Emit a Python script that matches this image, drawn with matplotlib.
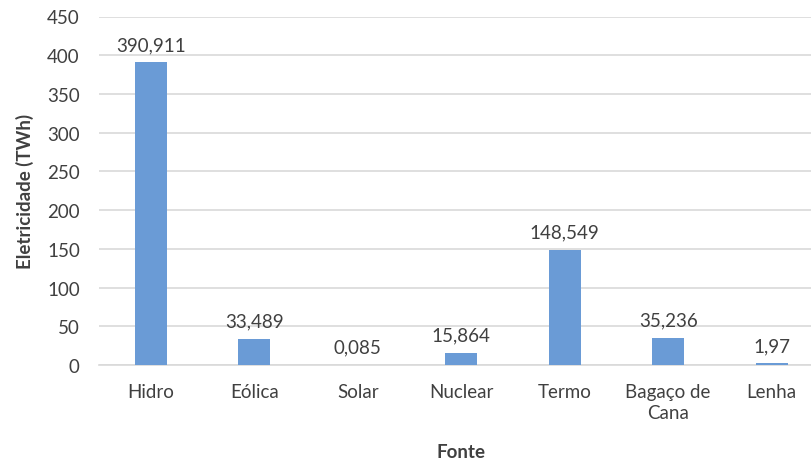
import matplotlib.pyplot as plt

fontes = ["Hidro", "Eólica", "Solar", "Nuclear", "Termo", "Bagaço de\nCana", "Lenha"]
valores = [390.911, 33.489, 0.085, 15.864, 148.549, 35.236, 1.97]
rotulos = ["390,911", "33,489", "0,085", "15,864", "148,549", "35,236", "1,97"]
yticks = [0, 50, 100, 150, 200, 250, 300, 350, 400, 450]

plt.rcParams["font.family"] = ["Lato", "DejaVu Sans"]
cor_texto = "#404040"
fs = 13.5

fig = plt.figure(figsize=(8.11, 4.64), dpi=100)
ax = fig.add_axes([99.3 / 811, 1 - 366 / 464, 724 / 811, 348.5 / 464])

x = range(len(fontes))
ax.bar(x, valores, width=0.31, color="#6A9BD6", zorder=3)

for i, (v, r) in enumerate(zip(valores, rotulos)):
    ax.text(i, v + 12, r, ha="center", va="bottom", fontsize=fs, color=cor_texto)

ax.set_xlim(-0.5, len(fontes) - 0.5)
ax.set_ylim(0, 450)
ax.set_yticks(yticks)
ax.set_xticks(list(x))
ax.set_xticklabels(fontes, fontsize=fs, color=cor_texto, linespacing=1.3)
ax.tick_params(axis="y", labelsize=fs, labelcolor=cor_texto, length=0, pad=14)
ax.tick_params(axis="x", length=0, pad=13)
ax.grid(axis="y", color="#d9d9d9", linewidth=1.2, zorder=0)

for s in ["top", "right", "left"]:
    ax.spines[s].set_visible(False)
ax.spines["bottom"].set_color("#d9d9d9")
ax.spines["bottom"].set_linewidth(1.2)

ax.set_ylabel("Eletricidade (TWh)", fontsize=fs, fontweight="bold", color=cor_texto, labelpad=9)
ax.set_xlabel("Fonte", fontsize=fs, fontweight="bold", color=cor_texto, labelpad=16)

fig.savefig("out.png", dpi=100)
